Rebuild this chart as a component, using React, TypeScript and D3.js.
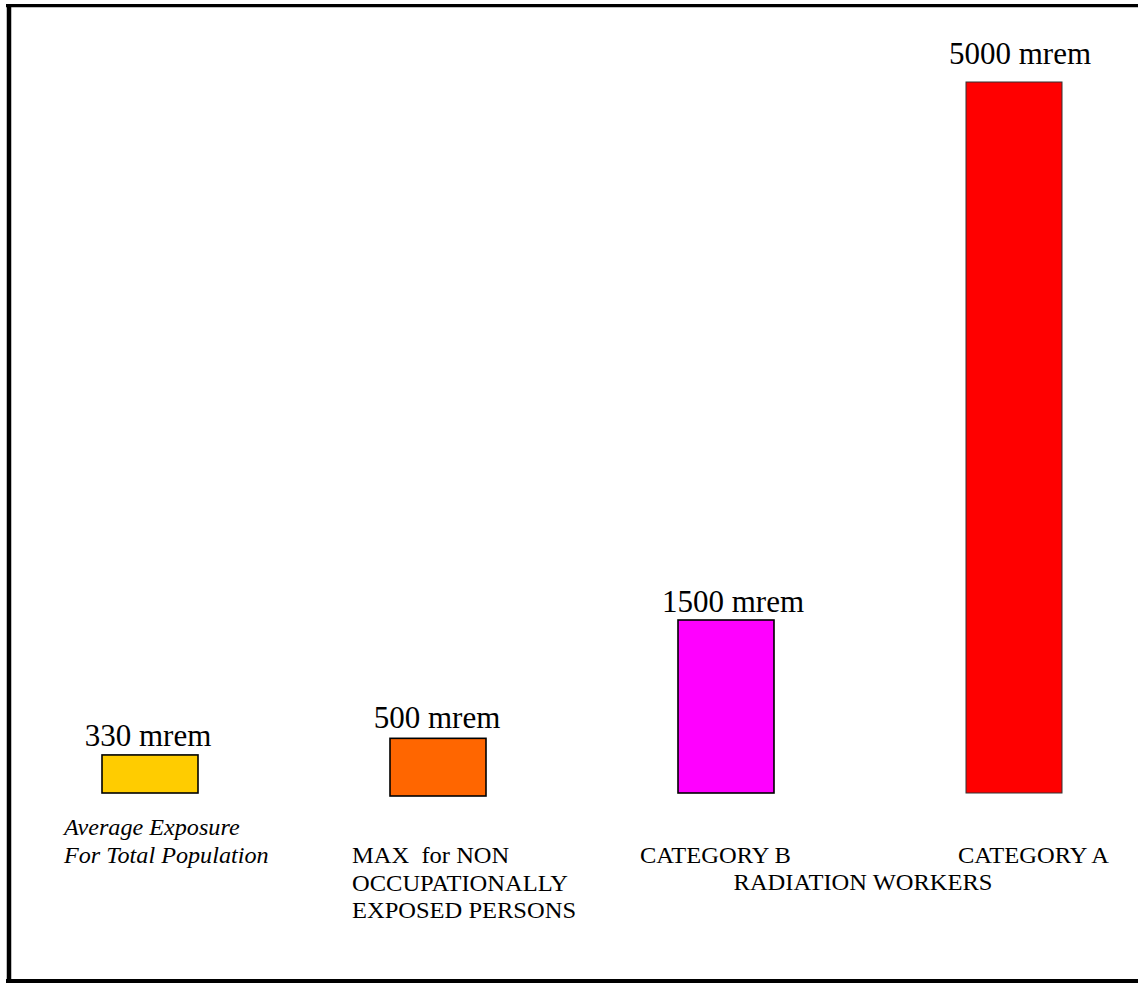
import React from "react";
import * as d3 from "d3";

// ---- data ----
const categories = ["avg", "nonOcc", "catB", "catA"];
const doses = [330, 500, 1500, 5000];
const valueLabels = ["330 mrem", "500 mrem", "1500 mrem", "5000 mrem"];
const barColors = ["#FFCC00", "#FF6600", "#FF00FF", "#FF0000"];
const categoryLines = [
  ["Average Exposure", "For Total Population"],
  ["MAX  for NON", "OCCUPATIONALLY", "EXPOSED PERSONS"],
  ["CATEGORY B"],
  ["CATEGORY A"],
];
const groupLabel = "RADIATION WORKERS";

// ---- layout ----
const W = 1138;
const H = 983;
const FONT = "'Liberation Serif', 'Times New Roman', Times, serif";

export default function App() {
  const x = d3.scalePoint<string>().domain(categories).range([150, 1014]);
  // piecewise-linear value scale (the original is not drawn to one linear scale)
  const y = d3.scaleLinear().domain([0, 1500, 5000]).range([793, 620, 82]);
  const barW = 96;
  const barShift = [0, 3, 0, 0];

  const labelStyles = [
    { dx: -86, y0: 835, italic: true, sx: 1.075 },
    { dx: -86, y0: 863, italic: false, sx: 1.09 },
    { dx: -86, y0: 863, italic: false, sx: 1.09 },
    { dx: -56, y0: 863, italic: false, sx: 1.09 },
  ];
  const valueDx = [-2, -1, 7, 6];
  const valueGap = [9, 10, 8, 18];
  const catFont = 22.5;

  return (
    <svg
      width={W}
      height={H}
      style={{ position: "absolute", left: 0, top: 0, display: "block", background: "#fff" }}
    >
      {/* frame */}
      <line x1={6} x2={W + 5} y1={5.6} y2={5.6} stroke="#000" strokeWidth={3.4} />
      <line x1={9} x2={9} y1={4} y2={981} stroke="#000" strokeWidth={4.5} />
      <line x1={6} x2={W + 5} y1={981} y2={981} stroke="#000" strokeWidth={4} />

      {categories.map((c, i) => {
        const cx = x(c) as number;
        const top = y(doses[i]) + barShift[i];
        const base = y(0) + barShift[i];
        const ls = labelStyles[i];
        return (
          <g key={c}>
            <rect
              x={cx - barW / 2}
              y={top}
              width={barW}
              height={base - top}
              fill={barColors[i]}
              stroke={i === 3 ? "#333" : "#000"}
              strokeWidth={i === 3 ? 1 : 1.6}
            />
            <text
              x={cx + valueDx[i]}
              y={top - valueGap[i]}
              textAnchor="middle"
              fontFamily={FONT}
              fontSize={31}
              fill="#000"
            >
              {valueLabels[i]}
            </text>
            {categoryLines[i].map((ln, j) => (
              <text
                key={j}
                transform={`translate(${cx + ls.dx},${ls.y0 + j * 27.5}) scale(${ls.sx},1)`}
                textAnchor="start"
                fontFamily={FONT}
                fontStyle={ls.italic ? "italic" : "normal"}
                fontSize={catFont}
                fill="#000"
                style={{ whiteSpace: "pre" }}
              >
                {ln}
              </text>
            ))}
          </g>
        );
      })}
      <text
        transform={`translate(${((x("catB") as number) + (x("catA") as number)) / 2 - 7},890) scale(1.09,1)`}
        textAnchor="middle"
        fontFamily={FONT}
        fontSize={catFont}
        fill="#000"
      >
        {groupLabel}
      </text>
    </svg>
  );
}
